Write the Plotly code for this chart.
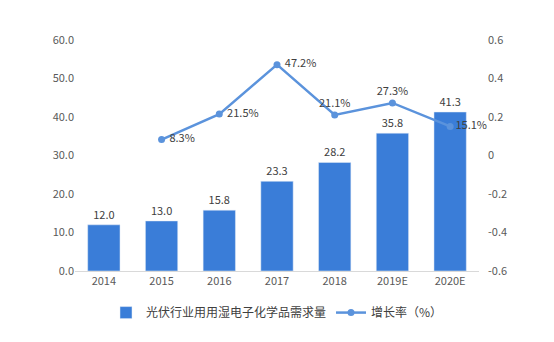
import plotly.graph_objects as go

years = ["2014", "2015", "2016", "2017", "2018", "2019E", "2020E"]
demand = [12.0, 13.0, 15.8, 23.3, 28.2, 35.8, 41.3]
growth_years = ["2015", "2016", "2017", "2018", "2019E", "2020E"]
growth = [0.083, 0.215, 0.472, 0.211, 0.273, 0.151]
growth_pos = ["middle right", "middle right", "middle right", "top center", "top center", "middle right"]
growth_pad = [1, 1, 1, 0, 0, 0]

left_ticks = [0, 10, 20, 30, 40, 50, 60]
right_ticks = [-0.6, -0.4, -0.2, 0, 0.2, 0.4, 0.6]
right_labels = ["-0.6", "-0.4", "-0.2", "0", "0.2", "0.4", "0.6"]

font_family = "Noto Sans CJK SC, Noto Sans, sans-serif"

fig = go.Figure()
fig.add_trace(go.Bar(
    x=years, y=demand, name="光伏行业用用湿电子化学品需求量",
    marker=dict(color="#3a7dd8"),
    text=[f"{v:.1f}" for v in demand], textposition="outside",
    textfont=dict(size=11, color="#404040"), cliponaxis=False,
))
fig.add_trace(go.Scatter(
    x=growth_years, y=growth, name="增长率（%）", yaxis="y2",
    mode="lines+markers+text",
    line=dict(color="#5b93dc", width=2.5),
    marker=dict(color="#5b93dc", size=7),
    text=["\u00a0" * p + f"{v*100:.1f}%" for v, p in zip(growth, growth_pad)],
    textposition=growth_pos,
    textfont=dict(size=11, color="#404040"), cliponaxis=False,
))

fig.update_layout(
    width=554, height=342,
    margin=dict(l=75, r=75, t=40, b=71, autoexpand=False),
    paper_bgcolor="white", plot_bgcolor="white",
    font=dict(family=font_family, size=11, color="#595959"),
    bargap=0.44,
    showlegend=True,
    legend=dict(orientation="h", x=0.5, xanchor="center", y=-0.18, yanchor="middle",
                font=dict(size=12, color="#404040"), itemwidth=30),
    xaxis=dict(showgrid=False, showline=True, linecolor="#d9d9d9", linewidth=1,
               ticks="", tickfont=dict(size=11, color="#595959")),
    yaxis=dict(range=[0, 60], tickvals=left_ticks, tickformat=".1f",
               showgrid=False, zeroline=False, showline=False, ticks="",
               tickfont=dict(size=11, color="#595959")),
    yaxis2=dict(range=[-0.6, 0.6], tickvals=right_ticks, ticktext=right_labels,
                overlaying="y", side="right", showgrid=False, zeroline=False,
                showline=False, ticks="", ticklabelstandoff=8,
                tickfont=dict(size=11, color="#595959")),
)

fig.write_html("out.html")
